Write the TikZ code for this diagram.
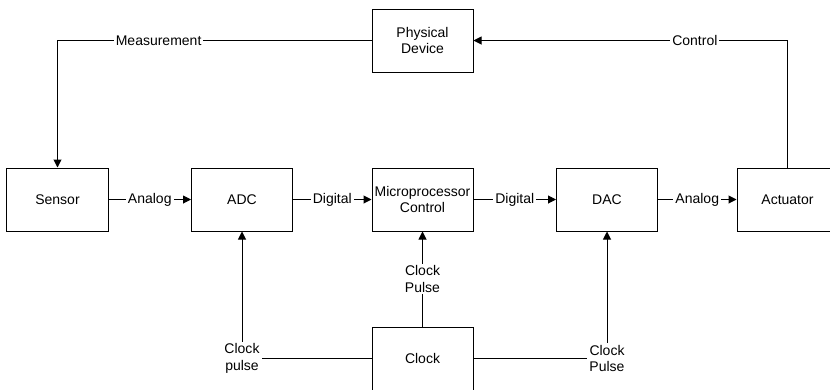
\documentclass[tikz,border=0pt]{standalone}
\usepackage{fontspec}
\setmainfont{Liberation Sans}
\usetikzlibrary{arrows.meta}
\begin{document}
\begin{tikzpicture}[x=1bp,y=-1bp,
  txt/.style={font=\fontsize{14bp}{16.5bp}\selectfont},
  box/.style={txt, draw, line width=1bp, minimum width=101bp, minimum height=63bp, inner sep=0pt, align=center},
  conn/.style={line width=1bp},
  arr/.style={conn, -{Triangle[length=8bp,width=8bp]}},
  lbl/.style={txt, fill=white, inner sep=2bp, align=center}
]
\useasboundingbox (0,0) rectangle (830,389);
\node[box] (pd)     at (422.5,40.5)  {Physical\\Device};
\node[box] (sensor) at (57.5,199.5)  {Sensor};
\node[box] (adc)    at (242,199.5)   {ADC};
\node[box] (mcu)    at (422.5,199.5) {Microprocessor\\Control};
\node[box] (dac)    at (607,199.5)   {DAC};
\node[box] (act)    at (787.5,199.5) {Actuator};
\node[box] (clk)    at (422.5,358.5) {Clock};

\draw[arr] (sensor.east) -- node[lbl] {Analog} (adc.west);
\draw[arr] (adc.east) -- node[lbl] {Digital} (mcu.west);
\draw[arr] (mcu.east) -- node[lbl] {Digital} (dac.west);
\draw[arr] (dac.east) -- node[lbl] {Analog} (act.west);

\draw[arr] (pd.west) -- node[lbl, pos=0.678] {Measurement} (pd.west -| sensor.north) -- (sensor.north);
\draw[arr] (act.north) -- (act.north |- pd.east) -- node[lbl, pos=0.295] {Control} (pd.east);

\draw[arr] (clk.north) -- node[lbl] {Clock\\Pulse} (mcu.south);
\draw[arr] (clk.west) -| node[lbl, pos=0.5] {Clock\\pulse} (adc.south);
\draw[arr] (clk.east) -| node[lbl, pos=0.5] {Clock\\Pulse} (dac.south);
\end{tikzpicture}
\end{document}
